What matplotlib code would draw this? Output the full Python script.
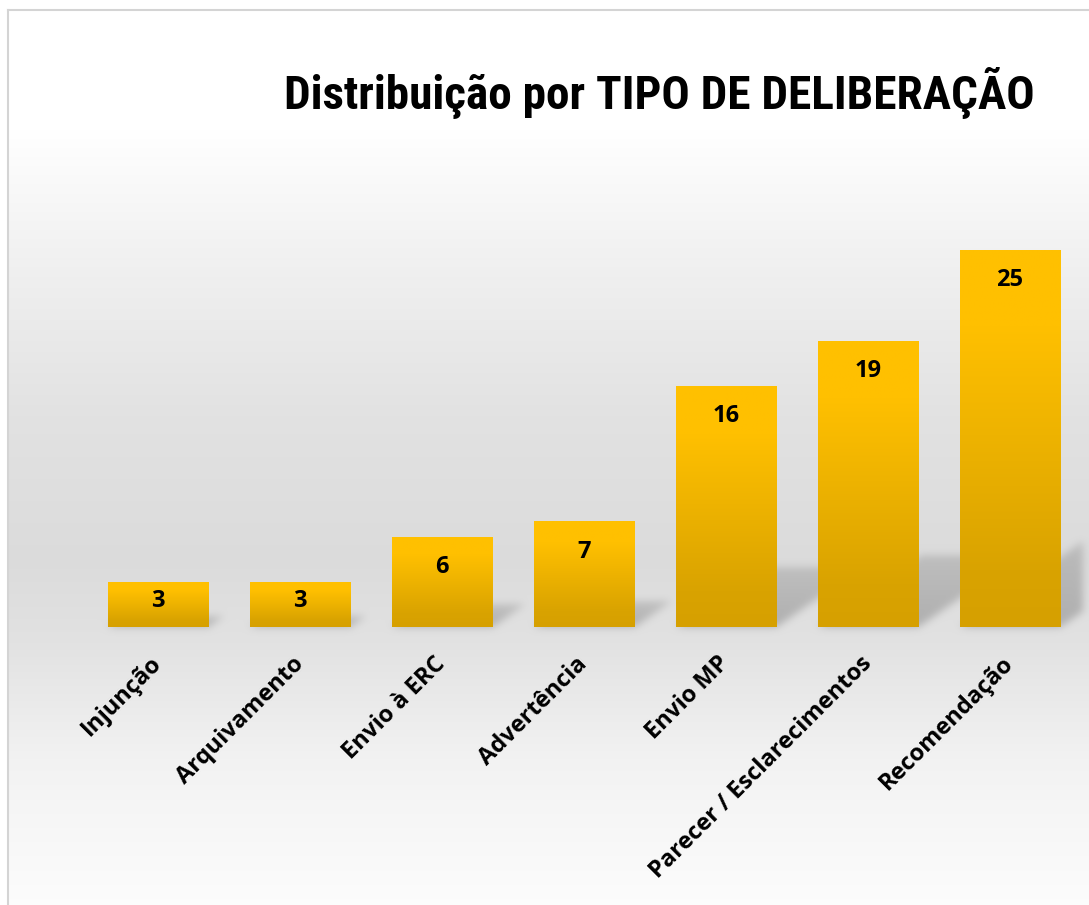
import numpy as np
import matplotlib
matplotlib.use("Agg")
import matplotlib.pyplot as plt
from matplotlib import font_manager
from matplotlib.path import Path
from matplotlib.colors import LinearSegmentedColormap

# dados
categorias = ["Injunção", "Arquivamento", "Envio à ERC", "Advertência",
              "Envio MP", "Parecer / Esclarecimentos", "Recomendação"]
valores = [3, 3, 6, 7, 16, 19, 25]
titulo = "Distribuição por TIPO DE DELIBERAÇÃO"

W, H = 1089, 905
DPI = 100


def fonte_titulo():
    # procura uma fonte estreita (condensed / narrow) em negrito
    cands = []
    for f in font_manager.fontManager.ttflist:
        estreita = ("narrow" in f.name.lower() or "condensed" in f.name.lower()
                    or f.stretch in ("condensed", "semi-condensed", "extra-condensed"))
        if estreita and f.weight in (600, 700, 800, "bold", "semibold", "heavy"):
            cands.append(f)
    pref = ["Liberation Sans Narrow", "Roboto Condensed", "DejaVu Sans", "Open Sans", "Noto Sans"]
    for p in pref:
        for f in cands:
            if f.name.startswith(p) and "oblique" not in f.style and "italic" not in f.style:
                return font_manager.FontProperties(fname=f.fname)
    return font_manager.FontProperties(family="Liberation Sans", weight="bold")


fig = plt.figure(figsize=(W / DPI, H / DPI), dpi=DPI)
fig.patch.set_facecolor("white")

# eixo de fundo (gradiente + sombras), em pixels
ax_bg = fig.add_axes([0, 0, 1, 1], zorder=0)
ax_bg.set_axis_off()

# eixo principal
ax = fig.add_axes([87 / W, (H - 627) / H, (1081 - 87) / W, (627 - 220) / H], zorder=1)
ax.patch.set_alpha(0)
x = np.arange(len(valores))
barras = ax.bar(x, valores, width=0.71, color="none", edgecolor="none")
for s in ax.spines.values():
    s.set_visible(False)
ax.set_yticks([])
ax.set_xticks(x)
ax.set_xticklabels(categorias, rotation=45, ha="right", va="center", rotation_mode="anchor",
                   fontsize=17, fontweight="bold", family="Open Sans")
ax.tick_params(axis="x", length=0, pad=24)

# gradiente das barras
cmap_barra = LinearSegmentedColormap.from_list(
    "barra", [(0.0, "#D6A000"), (0.15, "#D9A300"), (0.8, "#FFC000"), (1.0, "#FFC000")])
grad = np.linspace(0, 1, 256).reshape(-1, 1)
for b in barras:
    im = ax.imshow(grad, cmap=cmap_barra, aspect="auto", origin="lower",
                   extent=[b.get_x(), b.get_x() + b.get_width(), 0, b.get_height()],
                   zorder=2, interpolation="bilinear")
    im.set_clip_path(b)
ax.set_xlim(-0.5, len(valores) - 0.5)
ax.set_ylim(0, 27)

# rótulos de dados (dentro da barra, perto do topo)
for b, v in zip(barras, valores):
    desl = min(2.0, v / 2 - 0.2)
    ax.text(b.get_x() + b.get_width() / 2, v - desl, str(v), ha="center", va="center",
            fontsize=17, fontweight="bold", family="Open Sans", color="black", zorder=3)

# fundo: gradiente vertical
ys = np.arange(H)  # a partir do topo
pos = [0, 130, 270, 420, 560, 640, 760, 905]
niv = [1.0, 1.0, 0.94, 0.885, 0.86, 0.885, 0.95, 0.99]
g = np.interp(ys, pos, niv)
fundo = np.repeat(g[:, None], W, axis=1)
fundo[:10, :] = 1.0
fundo[:, :7] = 1.0

# sombras das barras (projeção para trás e à direita)
yy, xx = np.mgrid[0:H, 0:W]
pts = np.column_stack([xx.ravel() + 0.5, (H - yy.ravel() - 0.5)])
sombra = np.zeros(H * W)
for b in barras:
    (x0, yb) = ax.transData.transform((b.get_x(), 0))
    (x1, yt) = ax.transData.transform((b.get_x() + b.get_width(), b.get_height()))
    h = yt - yb
    dx, dy = 0.36 * h, 0.25 * h
    poly = Path([(x0, yb), (x1, yb), (x1 + dx, yb + dy), (x0 + dx, yb + dy), (x0, yb)])
    dentro = poly.contains_points(pts)
    frac = np.clip((pts[:, 1] - yb) / max(dy, 1), 0, 1)
    sombra = np.maximum(sombra, dentro * (1 - 0.4 * frac))
sombra = sombra.reshape(H, W)
sombra[:, 1083:] = 0


def desfoque(a, sigma):
    r = int(3 * sigma)
    k = np.exp(-0.5 * (np.arange(-r, r + 1) / sigma) ** 2)
    k /= k.sum()
    a = np.apply_along_axis(lambda m: np.convolve(m, k, mode="same"), 0, a)
    a = np.apply_along_axis(lambda m: np.convolve(m, k, mode="same"), 1, a)
    return a


sombra = desfoque(sombra, 4)
img = fundo * (1 - 0.22 * sombra)
rgb = np.dstack([img, img, img])
ax_bg.imshow(rgb, extent=[0, W, 0, H], origin="upper", aspect="auto", interpolation="nearest")
ax_bg.plot([7.5, 7.5], [0, H - 10.5], color="#d4d4d4", lw=1.5)
ax_bg.plot([7.5, W], [H - 10.5, H - 10.5], color="#d4d4d4", lw=1.5)
ax_bg.set_xlim(0, W)
ax_bg.set_ylim(0, H)

# título, ajustado à largura do original
fp = fonte_titulo()
fp.set_size(28)
t = fig.text(659 / W, 1 - 93 / H, titulo, ha="center", va="center",
             fontproperties=fp, fontweight="bold", color="black")
fig.canvas.draw()
larg = t.get_window_extent().width
t.set_fontsize(float(np.clip(28 * 752 / larg, 22, 34)))

fig.savefig("out.png", dpi=DPI)
